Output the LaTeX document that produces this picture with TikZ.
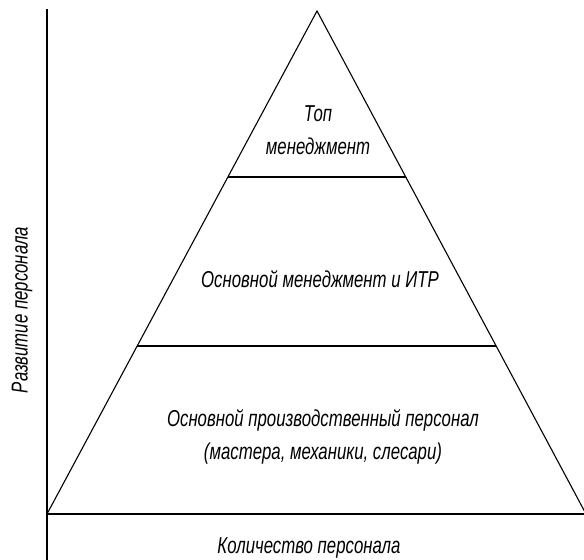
\documentclass[tikz,border=0pt]{standalone}
\usepackage{fontspec}
\setmainfont{Liberation Sans}[FakeStretch=0.73]
\usetikzlibrary{calc}

\begin{document}
\begin{tikzpicture}[x=0.5pt,y=-0.5pt,line width=0.6pt]
    \tikzstyle{label}=[font=\fontsize{11.5}{16.5}\selectfont\itshape, inner sep=0pt, align=center]
    \tikzstyle{level line}=[line width=0.55pt]
    \useasboundingbox (0,0) rectangle (584,560);

    % Draw the axes
    \coordinate (O) at (47,514);
    \coordinate (Y) at (47,9);
    \coordinate (Y-end) at (47,560);
    \coordinate (X) at (584,514);
    \draw (Y) -- (Y-end);
    \draw (O) -- (X);

    % Draw the pyramid
    \coordinate (T) at (317,11);
    \coordinate (R) at (586,514);
    \draw[level line] (O) -- (T) -- (R);

    % Draw the borders between the levels
    \foreach \name / \t in {1/0.33,2/0.666}
        \draw[level line] ($(T)!\t!(O)$) coordinate (L-\name) -- ($(T)!\t!(R)$) coordinate (R-\name);

    % Label the levels
    \node[label] (top) at (318,130) {Топ\\менеджмент};
    \node[label] (middle) at (320,279) {Основной менеджмент и ИТР};
    \node[label] (bottom) at (323,437) {Основной производственный персонал\\(мастера, механики, слесари)};

    % Label the axes
    \node[label] (x-label) at (309,548) {Количество персонала};
    \node[label, rotate=90] (y-label) at (22,310) {Развитие персонала};
\end{tikzpicture}
\end{document}
